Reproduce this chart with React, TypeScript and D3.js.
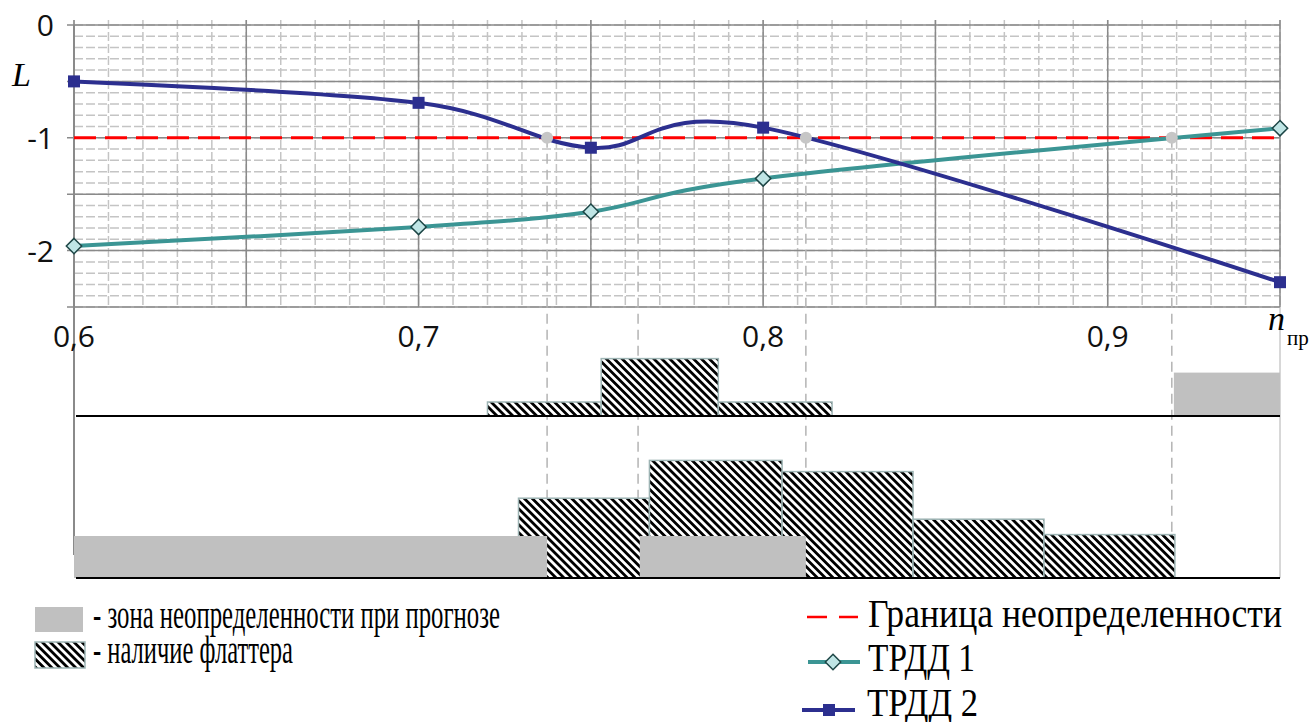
import * as d3 from "d3";

// speed values (n_пр) where both engines were computed
const nValues = [0.6, 0.7, 0.75, 0.8, 0.95];
const trdd1 = [-1.96, -1.79, -1.655, -1.36, -0.915];
const trdd2 = [-0.5, -0.69, -1.088, -0.91, -2.28];

const boundaryLevel = -1;
const crossingMarked = [0.7373, 0.8124, 0.9186];
const crossingGuides = [0.7373, 0.7637, 0.8124, 0.9186];

const xTickValues = [0.6, 0.7, 0.8, 0.9];
const xTickLabels = ["0,6", "0,7", "0,8", "0,9"];
const yTickValues = [0, -1, -2];
const yTickLabels = ["0", "-1", "-2"];

// strips under the chart: flutter zones and forecast uncertainty zones
const flutterUpper = [
  { from: 0.72, to: 0.753, level: 1 },
  { from: 0.753, to: 0.787, level: 4.1 },
  { from: 0.787, to: 0.82, level: 1 },
];
const uncertainUpper = [{ from: 0.9192, to: 0.95, level: 3.1 }];
const flutterLower = [
  { from: 0.729, to: 0.767, level: 5.7 },
  { from: 0.767, to: 0.8055, level: 8.4 },
  { from: 0.8055, to: 0.8435, level: 7.6 },
  { from: 0.8435, to: 0.8815, level: 4.2 },
  { from: 0.8815, to: 0.9195, level: 3.1 },
];
const uncertainLower = [
  { from: 0.6, to: 0.7373, level: 3 },
  { from: 0.7642, to: 0.8124, level: 3 },
];

const legendLeft = ["- зона неопределенности при прогнозе", "- наличие флаттера"];
const legendRight = ["Граница неопределенности", "ТРДД 1", "ТРДД 2"];

const BLUE = "#2c2f8f";
const TEAL = "#3b9594";
const SERIF = "'Times New Roman', 'Liberation Serif', Tinos, 'DejaVu Serif', serif";

const App = () => {
  const x = d3.scaleLinear().domain([0.6, 0.95]).range([74, 1280]);
  const y = d3.scaleLinear().domain([-2.5, 0]).range([307, 25]);
  const h = d3.scaleLinear().domain([0, 10]).range([0, 140]);

  const upperBase = 416;
  const lowerBase = 578;

  const line = d3
    .line<number>()
    .x((d, i) => x(nValues[i]))
    .y((d) => y(d))
    .curve(d3.curveCardinal.tension(0));

  const minorX = x.ticks(35);
  const majorX = x.ticks(7);
  const minorY = y.ticks(25);
  const majorY = y.ticks(5);

  const diamond = d3.symbol(d3.symbolDiamond2, 150)();

  const bars = (list, base, fill, stroke) =>
    list.map((d, i) => (
      <rect
        key={i}
        x={x(d.from)}
        y={base - h(d.level)}
        width={x(d.to) - x(d.from)}
        height={h(d.level)}
        fill={fill}
        stroke={stroke}
        strokeWidth={stroke === "none" ? 0 : 1.5}
      />
    ));

  return (
    <svg
      width={1310}
      height={722}
      style={{ position: "absolute", left: 0, top: 0, background: "#fff" }}
    >
      <defs>
        <pattern
          id="hatch"
          patternUnits="userSpaceOnUse"
          width={5.6}
          height={5.6}
          patternTransform="rotate(-45)"
        >
          <rect width={5.6} height={5.6} fill="#fff" />
          <rect width={2.8} height={5.6} fill="#000" />
        </pattern>
      </defs>

      {/* grid */}
      {minorY.map((v) => (
        <line
          key={"my" + v}
          x1={x(0.6)}
          x2={x(0.95)}
          y1={y(v)}
          y2={y(v)}
          stroke="#c4c4c4"
          strokeWidth={1.5}
          strokeDasharray="9,3"
        />
      ))}
      {minorX.map((v) => (
        <line
          key={"mx" + v}
          x1={x(v)}
          x2={x(v)}
          y1={20}
          y2={y(-2.5)}
          stroke="#c4c4c4"
          strokeWidth={1.5}
          strokeDasharray="9,3"
        />
      ))}
      {majorY.map((v) => (
        <line
          key={"My" + v}
          x1={x(0.6) - 7}
          x2={x(0.95)}
          y1={y(v)}
          y2={y(v)}
          stroke="#8a8a8a"
          strokeWidth={1.5}
        />
      ))}
      {majorX.map((v) => (
        <line
          key={"Mx" + v}
          x1={x(v)}
          x2={x(v)}
          y1={20}
          y2={y(-2.5)}
          stroke="#8a8a8a"
          strokeWidth={1.5}
        />
      ))}

      {/* frame lines for the strips */}
      <line x1={x(0.6)} x2={x(0.6)} y1={y(0)} y2={555} stroke="#8a8a8a" strokeWidth={2} />
      <line x1={x(0.95)} x2={x(0.95)} y1={y(-2.5)} y2={lowerBase} stroke="#b0b0b0" strokeWidth={1} />

      {/* guides from the boundary crossings */}
      {crossingGuides.map((v) => (
        <line
          key={"g" + v}
          x1={x(v)}
          x2={x(v)}
          y1={y(boundaryLevel)}
          y2={lowerBase}
          stroke="#b4b4b4"
          strokeWidth={1.5}
          strokeDasharray="10,6"
        />
      ))}

      {/* boundary */}
      <line
        x1={x(0.6)}
        x2={x(0.95)}
        y1={y(boundaryLevel)}
        y2={y(boundaryLevel)}
        stroke="#ff0000"
        strokeWidth={3}
        strokeDasharray="22,9"
      />

      {/* curves */}
      <path d={line(trdd1)} fill="none" stroke={TEAL} strokeWidth={4} />
      <path d={line(trdd2)} fill="none" stroke={BLUE} strokeWidth={4} />

      {crossingMarked.map((v) => (
        <circle key={"c" + v} cx={x(v)} cy={y(boundaryLevel)} r={6} fill="#c6c6c6" />
      ))}

      {trdd2.map((v, i) => (
        <rect key={"s" + i} x={x(nValues[i]) - 6} y={y(v) - 6} width={12} height={12} fill={BLUE} />
      ))}
      {trdd1.map((v, i) => (
        <path
          key={"d" + i}
          d={diamond}
          transform={`translate(${x(nValues[i])},${y(v)})`}
          fill="#bfe5e5"
          stroke="#1d4646"
          strokeWidth={1.5}
        />
      ))}

      {/* axis labels */}
      <g fontFamily="'Open Sans', sans-serif" fontSize={30} fill="#111">
        {xTickValues.map((v, i) => (
          <text key={"xt" + v} x={x(v)} y={347} textAnchor="middle">
            {xTickLabels[i]}
          </text>
        ))}
        {yTickValues.map((v, i) => (
          <text key={"yt" + v} x={54} y={y(v) + 11} textAnchor="end">
            {yTickLabels[i]}
          </text>
        ))}
      </g>
      <text x={12} y={86} fontFamily={SERIF} fontStyle="italic" fontSize={34}>
        L
      </text>
      <text x={1268} y={330} fontFamily={SERIF} fontStyle="italic" fontSize={34}>
        n
      </text>
      <text x={1287} y={345} fontFamily={SERIF} fontSize={21}>
        пр
      </text>

      {/* strips */}
      {bars(flutterUpper, upperBase, "url(#hatch)", "#9db4b4")}
      {bars(uncertainUpper, upperBase, "#c0c0c0", "none")}
      <line x1={x(0.6) + 2} x2={x(0.95)} y1={upperBase} y2={upperBase} stroke="#000" strokeWidth={2} />

      {bars(flutterLower, lowerBase, "url(#hatch)", "#9db4b4")}
      {bars(uncertainLower, lowerBase, "#c0c0c0", "none")}
      <line x1={x(0.6) + 2} x2={x(0.95)} y1={lowerBase} y2={lowerBase} stroke="#000" strokeWidth={2} />

      {/* legend */}
      <rect x={35} y={607} width={48} height={25} fill="#c0c0c0" />
      <rect x={35} y={642} width={50} height={26} fill="url(#hatch)" stroke="#9db4b4" strokeWidth={1.5} />
      <g fontFamily={SERIF} fontSize={39} fill="#000">
        <text x={93} y={628} textLength={407} lengthAdjust="spacingAndGlyphs">
          {legendLeft[0]}
        </text>
        <text x={93} y={663} textLength={200} lengthAdjust="spacingAndGlyphs">
          {legendLeft[1]}
        </text>
        <text x={868} y={627} textLength={414} lengthAdjust="spacingAndGlyphs">
          {legendRight[0]}
        </text>
        <text x={868} y={671} textLength={107} lengthAdjust="spacingAndGlyphs">
          {legendRight[1]}
        </text>
        <text x={867} y={716} textLength={111} lengthAdjust="spacingAndGlyphs">
          {legendRight[2]}
        </text>
      </g>
      <line x1={807} x2={858} y1={617} y2={617} stroke="#ff0000" strokeWidth={2.5} strokeDasharray="20,12" />
      <line x1={808} x2={860} y1={662} y2={662} stroke={TEAL} strokeWidth={4} />
      <path d={diamond} transform="translate(833,662)" fill="#bfe5e5" stroke="#1d4646" strokeWidth={1.5} />
      <line x1={802} x2={855} y1={710} y2={710} stroke={BLUE} strokeWidth={4} />
      <rect x={823} y={704} width={12} height={12} fill={BLUE} />
    </svg>
  );
};

export default App;
